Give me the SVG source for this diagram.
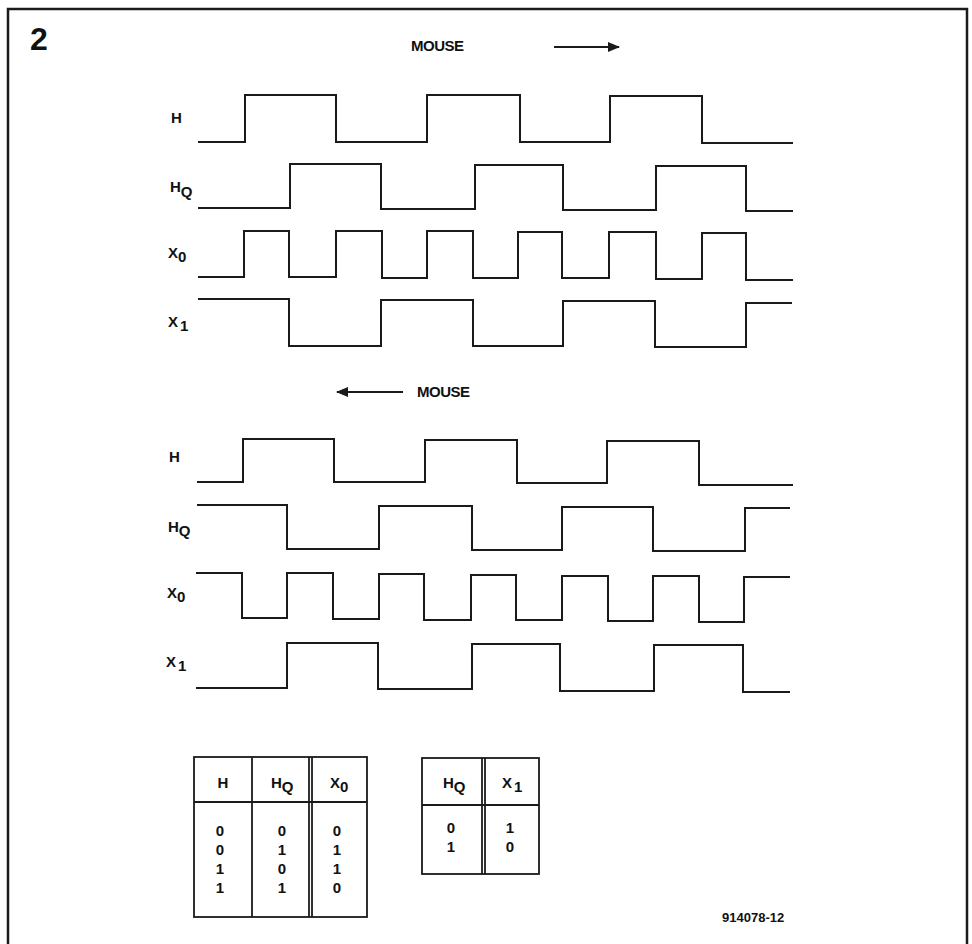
<svg xmlns="http://www.w3.org/2000/svg" width="972" height="944" viewBox="0 0 972 944">
<style>
  .wave{fill:none;stroke:#1a1a1a;stroke-width:2;stroke-linejoin:miter}
  .frame{fill:none;stroke:#1a1a1a;stroke-width:2.5}
  .tbl{fill:none;stroke:#1a1a1a;stroke-width:1.8}
  .lbl{font-family:"Liberation Sans",Arial,sans-serif;font-weight:bold;font-size:15px;fill:#111}
  .ctr{text-anchor:middle}
  .arr{stroke:#1a1a1a;stroke-width:2;fill:none}
</style>
<defs>
  <marker id="ah" markerWidth="12" markerHeight="10" refX="11" refY="5" orient="auto" markerUnits="userSpaceOnUse">
    <path d="M0,0 L12,5 L0,10 Z" fill="#1a1a1a"/>
  </marker>
</defs>
<rect width="972" height="944" fill="#fff"/>
<path class="frame" d="M8,950 V9 H967 V950"/>
<text x="30" y="50" style="font-family:'Liberation Sans',Arial,sans-serif;font-weight:bold;font-size:32px;fill:#111">2</text>

<g id="direction-right">
  <text class="lbl" x="411" y="51" textLength="53">MOUSE</text>
  <line class="arr" x1="554" y1="47" x2="619" y2="47" marker-end="url(#ah)"/>
</g>
<g id="direction-left">
  <line class="arr" x1="403" y1="392" x2="337" y2="392" marker-end="url(#ah)"/>
  <text class="lbl" x="417" y="397" textLength="53">MOUSE</text>
</g>

<g id="top-waveforms">
  <g id="top-H">
    <text class="lbl" x="171" y="123">H</text>
    <path class="wave" d="M198,142 H245 V95 H336 V142 H427 V95 H520 V142 H610 V96 H702 V143 H793"/>
  </g>
  <g id="top-HQ">
    <text class="lbl" x="170" y="192">H<tspan dy="5">Q</tspan></text>
    <path class="wave" d="M198,208 H290 V164 H381 V209 H475 V165 H563 V210 H656 V166 H746 V211 H793"/>
  </g>
  <g id="top-X0">
    <text class="lbl" x="168" y="258">X<tspan dy="4">0</tspan></text>
    <path class="wave" d="M198,277 H244 V231 H289 V277 H336 V231 H382 V278 H427 V231 H473 V278 H518 V232 H562 V278 H609 V232 H656 V279 H702 V233 H746 V280 H793"/>
  </g>
  <g id="top-X1">
    <text class="lbl" x="168" y="327">X<tspan dx="2" dy="4">1</tspan></text>
    <path class="wave" d="M198,299 H289 V346 H381 V300 H473 V346 H563 V301 H655 V347 H746 V303 H792"/>
  </g>
</g>

<g id="bottom-waveforms">
  <g id="bot-H">
    <text class="lbl" x="169" y="462">H</text>
    <path class="wave" d="M197,482 H243 V439 H334 V482 H425 V440 H517 V483 H607 V441 H699 V485 H793"/>
  </g>
  <g id="bot-HQ">
    <text class="lbl" x="168" y="532">H<tspan dy="4">Q</tspan></text>
    <path class="wave" d="M197,505 H287 V549 H379 V506 H472 V550 H562 V507 H653 V551 H745 V508 H790"/>
  </g>
  <g id="bot-X0">
    <text class="lbl" x="167" y="598">X<tspan dy="4">0</tspan></text>
    <path class="wave" d="M196,573 H242 V618 H287 V573 H333 V619 H379 V574 H424 V620 H471 V575 H516 V620 H562 V576 H608 V621 H653 V576 H699 V622 H744 V577 H790"/>
  </g>
  <g id="bot-X1">
    <text class="lbl" x="166" y="667">X<tspan dx="2" dy="4">1</tspan></text>
    <path class="wave" d="M196,688 H287 V643 H378 V689 H472 V644 H560 V691 H654 V645 H743 V692 H790"/>
  </g>
</g>

<g id="table-1">
  <rect class="tbl" x="194" y="757" width="173" height="160"/>
  <line class="tbl" x1="194" y1="802" x2="367" y2="802"/>
  <line class="tbl" x1="252" y1="757" x2="252" y2="917"/>
  <line class="tbl" x1="309" y1="757" x2="309" y2="917"/>
  <line class="tbl" x1="312" y1="757" x2="312" y2="917"/>
  <text class="lbl ctr" x="223" y="788">H</text>
  <text class="lbl" x="271" y="788">H<tspan dy="4">Q</tspan></text>
  <text class="lbl" x="330" y="788">X<tspan dy="4">0</tspan></text>
  <text class="lbl ctr" x="220" y="836">0</text>
  <text class="lbl ctr" x="220" y="855">0</text>
  <text class="lbl ctr" x="220" y="874">1</text>
  <text class="lbl ctr" x="220" y="893">1</text>
  <text class="lbl ctr" x="282" y="836">0</text>
  <text class="lbl ctr" x="282" y="855">1</text>
  <text class="lbl ctr" x="282" y="874">0</text>
  <text class="lbl ctr" x="282" y="893">1</text>
  <text class="lbl ctr" x="337" y="836">0</text>
  <text class="lbl ctr" x="337" y="855">1</text>
  <text class="lbl ctr" x="337" y="874">1</text>
  <text class="lbl ctr" x="337" y="893">0</text>
</g>

<g id="table-2">
  <rect class="tbl" x="422" y="758" width="117" height="116"/>
  <line class="tbl" x1="422" y1="805" x2="539" y2="805"/>
  <line class="tbl" x1="482" y1="758" x2="482" y2="874"/>
  <line class="tbl" x1="485" y1="758" x2="485" y2="874"/>
  <text class="lbl" x="443" y="788">H<tspan dy="4">Q</tspan></text>
  <text class="lbl" x="502" y="788">X<tspan dx="2" dy="4">1</tspan></text>
  <text class="lbl ctr" x="451" y="833">0</text>
  <text class="lbl ctr" x="451" y="852">1</text>
  <text class="lbl ctr" x="510" y="833">1</text>
  <text class="lbl ctr" x="510" y="852">0</text>
</g>

<text x="722" y="922" style="font-family:'Liberation Sans',Arial,sans-serif;font-weight:bold;font-size:13px;fill:#111">914078-12</text>
</svg>
